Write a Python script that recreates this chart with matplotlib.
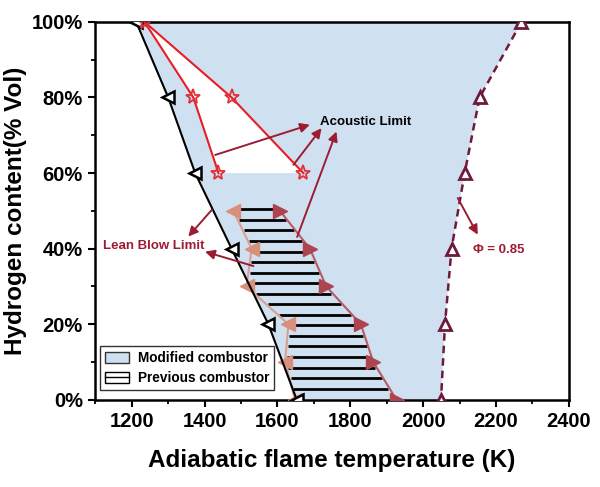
import numpy as np
import matplotlib
matplotlib.use("Agg")
import matplotlib.pyplot as plt
from matplotlib.patches import Patch
from matplotlib.lines import Line2D
from matplotlib.legend_handler import HandlerTuple
from matplotlib.ticker import MultipleLocator, FuncFormatter

plt.rcParams['font.family'] = ['Liberation Sans', 'DejaVu Sans']
plt.rcParams['font.weight'] = 'bold'

# ---- data ----
# Modified combustor lean blow limit (black, left triangles)
lbo_mod_T = [1212, 1300, 1374, 1474, 1575, 1653]
lbo_mod_H = [100, 80, 60, 40, 20, 0]
# Phi = 0.85 boundary (dashed, up triangles)
phi_T = [2270, 2155, 2114, 2078, 2060, 2049]
phi_H = [100, 80, 60, 40, 20, 0]
# Acoustic limit (red stars): two branches from the top point
ac_left_T = [1235, 1369, 1438]
ac_left_H = [100, 80, 60]
ac_right_T = [1235, 1474, 1671]
ac_right_H = [100, 80, 60]
# Previous combustor: lean boundary (salmon) and rich boundary (dark red)
prev_left_T = [1479, 1529, 1515, 1630, 1621, 1648]
prev_left_H = [50, 40, 30, 20, 10, 0]
prev_right_T = [1607, 1689, 1734, 1829, 1863, 1927]
prev_right_H = [50, 40, 30, 20, 10, 0]

blue = '#cfe0f1'
arrow_c = '#9c1c33'

fig = plt.figure(figsize=(6.0, 4.87), dpi=100)
ax = fig.add_axes([0.159, 0.179, 0.789, 0.776])

# blue modified region
poly_T = lbo_mod_T + phi_T[::-1]
poly_H = lbo_mod_H + phi_H[::-1]
ax.fill(poly_T, poly_H, color=blue, lw=0, zorder=1)

# white acoustic region
ac_T = ac_left_T + ac_right_T[::-1]
ac_H = ac_left_H + ac_right_H[::-1]
ax.fill(ac_T, ac_H, color='white', lw=0, zorder=1.5)

# hatch lines of previous combustor
hl = np.arange(50.4, 0.5, -2.79)
lh = np.array(prev_left_H[::-1]); lt = np.array(prev_left_T[::-1])
rh = np.array(prev_right_H[::-1]); rt = np.array(prev_right_T[::-1])
xl = np.interp(hl, lh, lt)
xr = np.interp(hl, rh, rt)
ax.hlines(hl, xl + 4, xr - 4, color='black', lw=2.0, zorder=2)

# boundaries
ax.plot(prev_left_T, prev_left_H, color='#d9a091', lw=1.5, zorder=3,
        marker='<', ms=10, mfc='#d8907c', mec='#d8907c')
ax.plot(prev_right_T, prev_right_H, color='#b65b62', lw=1.5, zorder=3,
        marker='>', ms=10, mfc='#ae4450', mec='#ae4450')

ax.plot(lbo_mod_T, lbo_mod_H, color='black', lw=1.5, zorder=4,
        marker='<', ms=9, mfc='white', mec='black', mew=1.8)
ax.plot(phi_T, phi_H, color='#6e1a3b', lw=1.8, ls=(0, (3, 2)), zorder=4,
        marker='^', ms=9, mfc='white', mec='#6e1a3b', mew=2)

ax.plot(ac_left_T, ac_left_H, color='#ea1c24', lw=1.5, zorder=5,
        marker='*', ms=11, mfc='none', mec='#e0303a', mew=1.3)
ax.plot(ac_right_T, ac_right_H, color='#ea1c24', lw=1.5, zorder=5,
        marker='*', ms=11, mfc='none', mec='#e0303a', mew=1.3)

# annotations
ap = dict(arrowstyle='-|>', color=arrow_c, lw=1.4, mutation_scale=14,
          shrinkA=0, shrinkB=0)
for s, e in [((1429, 64.8), (1689, 72.8)),
             ((1644, 62.2), (1721, 71.9)),
             ((1654, 43.1), (1762, 71.0))]:
    ax.annotate('', xy=e, xytext=s, arrowprops=ap, zorder=6)
ax.text(1716, 73.4, 'Acoustic Limit', fontsize=9.5, fontweight='bold',
        color='black', ha='left', va='center', zorder=7)

for s, e in [((1420, 50.3), (1355, 43.2)),
             ((1534, 35.4), (1401, 39.2))]:
    ax.annotate('', xy=e, xytext=s, arrowprops=ap, zorder=6)
ax.text(1121, 40.6, 'Lean Blow Limit', fontsize=9.5, fontweight='bold',
        color=arrow_c, ha='left', va='center', zorder=7)

ax.annotate('', xy=(2150, 43.7), xytext=(2095, 53.4), arrowprops=ap, zorder=6)
ax.text(2137, 39.7, 'Φ = 0.85', fontsize=9.5, fontweight='bold',
        color=arrow_c, ha='left', va='center', zorder=7)

# axes styling
ax.set_xlim(1100, 2400)
ax.set_ylim(0, 100)
ax.set_xticks([1200, 1400, 1600, 1800, 2000, 2200, 2400])
ax.xaxis.set_minor_locator(MultipleLocator(100))
ax.set_yticks([0, 20, 40, 60, 80, 100])
ax.yaxis.set_minor_locator(MultipleLocator(10))
ax.yaxis.set_major_formatter(FuncFormatter(lambda v, p: f'{int(v)}%'))
ax.tick_params(which='major', direction='out', length=5, width=1.5,
               labelsize=14.5, pad=4)
ax.tick_params(which='minor', direction='out', length=3, width=1.3)
for lab in ax.get_xticklabels() + ax.get_yticklabels():
    lab.set_fontweight('bold')
for sp in ax.spines.values():
    sp.set_linewidth(1.8)
ax.set_xlabel('Adiabatic flame temperature (K)', fontsize=17.5,
              fontweight='bold', labelpad=13)
ax.set_ylabel('Hydrogen content(% Vol)', fontsize=17.5,
              fontweight='bold', labelpad=3)

h1 = Patch(facecolor=blue, edgecolor='#333333', lw=1.0)
h2 = (Patch(facecolor='white', edgecolor='black', lw=1.0),
      Line2D([0], [0], color='black', lw=1.0))
leg = ax.legend([h1, h2], ['Modified combustor', 'Previous combustor'],
                handler_map={tuple: HandlerTuple(ndivide=1, pad=0)},
                loc='lower left', bbox_to_anchor=(0.010, 0.026),
                borderaxespad=0, fontsize=9.8, frameon=True, fancybox=False,
                edgecolor='black', handlelength=1.8, handleheight=0.8,
                handletextpad=0.6, borderpad=0.35, labelspacing=0.45)
leg.get_frame().set_linewidth(1.0)
leg.set_zorder(10)
for t in leg.get_texts():
    t.set_fontweight('bold')

fig.savefig('out.png', dpi=100)
